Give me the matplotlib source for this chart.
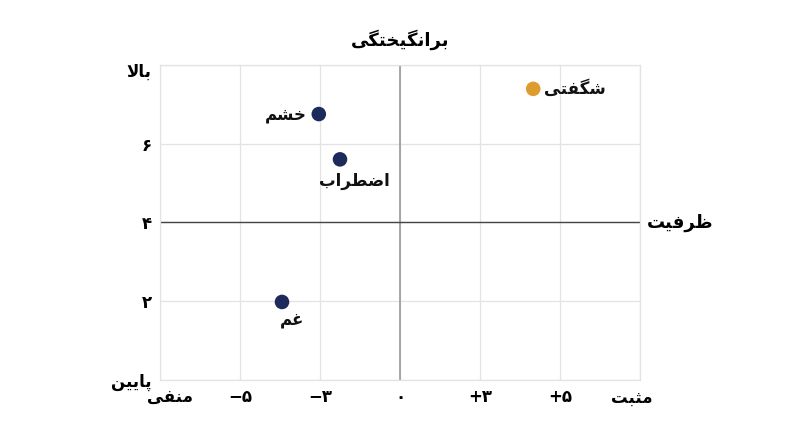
import matplotlib
matplotlib.use("Agg")
import matplotlib.pyplot as plt
import matplotlib.transforms as mtransforms

# ==============================
# Data
# ==============================

emotions = ["شگفتی", "خشم", "اضطراب", "غم"]
valence = [3.33, -2.03, -1.5, -2.95]
arousal = [7.39, 6.75, 5.6, 1.98]
colors = ["#dd9c2f", "#1d2a5c", "#1d2a5c", "#1d2a5c"]

x_ticks = [-6, -4, -2, 0, 2, 4, 6]
x_labels = ["منفی", "−۵", "−۳", "۰", "+۳", "+۵", "مثبت"]
y_ticks = [0, 2, 4, 6, 8]
y_labels = ["پایین", "۲", "۴", "۶", "بالا"]

title = "برانگیختگی"
x_name = "ظرفیت"

# ==============================
# Minimal Persian shaping (matplotlib has no RTL / joining)
# ==============================

# iso, fin, ini, med  (None -> letter does not join to the next one)
FORMS = {
    "ا": (0xFE8D, 0xFE8E, None, None),
    "ب": (0xFE8F, 0xFE90, 0xFE91, 0xFE92),
    "پ": (0xFB56, 0xFB57, 0xFB58, 0xFB59),
    "ت": (0xFE95, 0xFE96, 0xFE97, 0xFE98),
    "ث": (0xFE99, 0xFE9A, 0xFE9B, 0xFE9C),
    "خ": (0xFEA5, 0xFEA6, 0xFEA7, 0xFEA8),
    "ر": (0xFEAD, 0xFEAE, None, None),
    "ش": (0xFEB5, 0xFEB6, 0xFEB7, 0xFEB8),
    "ض": (0xFEBD, 0xFEBE, 0xFEBF, 0xFEC0),
    "ط": (0xFEC1, 0xFEC2, 0xFEC3, 0xFEC4),
    "ظ": (0xFEC5, 0xFEC6, 0xFEC7, 0xFEC8),
    "غ": (0xFECD, 0xFECE, 0xFECF, 0xFED0),
    "ف": (0xFED1, 0xFED2, 0xFED3, 0xFED4),
    "ل": (0xFEDD, 0xFEDE, 0xFEDF, 0xFEE0),
    "م": (0xFEE1, 0xFEE2, 0xFEE3, 0xFEE4),
    "ن": (0xFEE5, 0xFEE6, 0xFEE7, 0xFEE8),
    "ی": (0xFBFC, 0xFBFD, 0xFBFE, 0xFBFF),
    "گ": (0xFB92, 0xFB93, 0xFB94, 0xFB95),
}


def shape(text):
    if not any(c in FORMS for c in text):
        return text
    # lam-alef ligature
    chars = []
    i = 0
    while i < len(text):
        if text[i] == "ل" and i + 1 < len(text) and text[i + 1] == "ا":
            chars.append("LA")
            i += 2
        else:
            chars.append(text[i])
            i += 1

    def joins_left(c):
        return c in FORMS and FORMS[c][2] is not None

    def joins_right(c):
        return c in FORMS or c == "LA"

    out = []
    for i, c in enumerate(chars):
        prev_joins = i > 0 and joins_left(chars[i - 1])
        if c == "LA":
            out.append(chr(0xFEFC if prev_joins else 0xFEFB))
            continue
        if c not in FORMS:
            out.append(c)
            continue
        iso, fin, ini, med = FORMS[c]
        next_ok = i + 1 < len(chars) and joins_right(chars[i + 1]) and ini is not None
        if prev_joins and next_ok:
            out.append(chr(med))
        elif prev_joins:
            out.append(chr(fin))
        elif next_ok:
            out.append(chr(ini))
        else:
            out.append(chr(iso))
    return "".join(out)[::-1]


# ==============================
# Plot
# ==============================

plt.rcParams["font.family"] = ["DejaVu Sans"]

fig = plt.figure(figsize=(8, 4.47), dpi=100)
ax = fig.add_axes([0.2, 0.15, 0.6, 0.705])

ax.set_xlim(-6, 6)
ax.set_ylim(0, 8)

ax.grid(True, color="#e3e3e3", linewidth=0.9)
ax.set_axisbelow(True)
for s in ax.spines.values():
    s.set_color("#e3e3e3")
    s.set_linewidth(0.9)

ax.axvline(0, color="#999999", linewidth=1.2, zorder=1)
ax.axhline(4, color="#444444", linewidth=1.0, zorder=1)

ax.scatter(valence, arousal, s=110, c=colors, zorder=3, linewidths=0)

label_pos = [
    (8, 0, "left", "center"),
    (-9, 0, "right", "center"),
    (10, -9, "center", "top"),
    (7, -6, "center", "top"),
]
for name, x, y, (dx, dy, ha, va) in zip(emotions, valence, arousal, label_pos):
    ax.annotate(shape(name), (x, y), xytext=(dx, dy), textcoords="offset points",
                ha=ha, va=va, fontsize=12, fontweight="bold", color="#111111")

ax.set_xticks(x_ticks)
ax.set_xticklabels([shape(t) for t in x_labels], fontsize=12, fontweight="bold")
ax.set_yticks(y_ticks)
ax.set_yticklabels([shape(t) for t in y_labels], fontsize=12, fontweight="bold")
ax.tick_params(length=0, pad=6)

# end labels sit a little inside the axis ends
xt = ax.get_xticklabels()
xt[0].set_transform(xt[0].get_transform() + mtransforms.ScaledTranslation(0.1, 0, fig.dpi_scale_trans))
xt[-1].set_transform(xt[-1].get_transform() + mtransforms.ScaledTranslation(-0.08, 0, fig.dpi_scale_trans))
yt = ax.get_yticklabels()
yt[-1].set_transform(yt[-1].get_transform() + mtransforms.ScaledTranslation(0, -0.05, fig.dpi_scale_trans))

ax.set_title(shape(title), fontsize=13, fontweight="bold", pad=14)
ax.text(1.015, 0.5, shape(x_name), transform=ax.transAxes, ha="left", va="center",
        fontsize=13, fontweight="bold")

fig.savefig("out.png", dpi=100)
